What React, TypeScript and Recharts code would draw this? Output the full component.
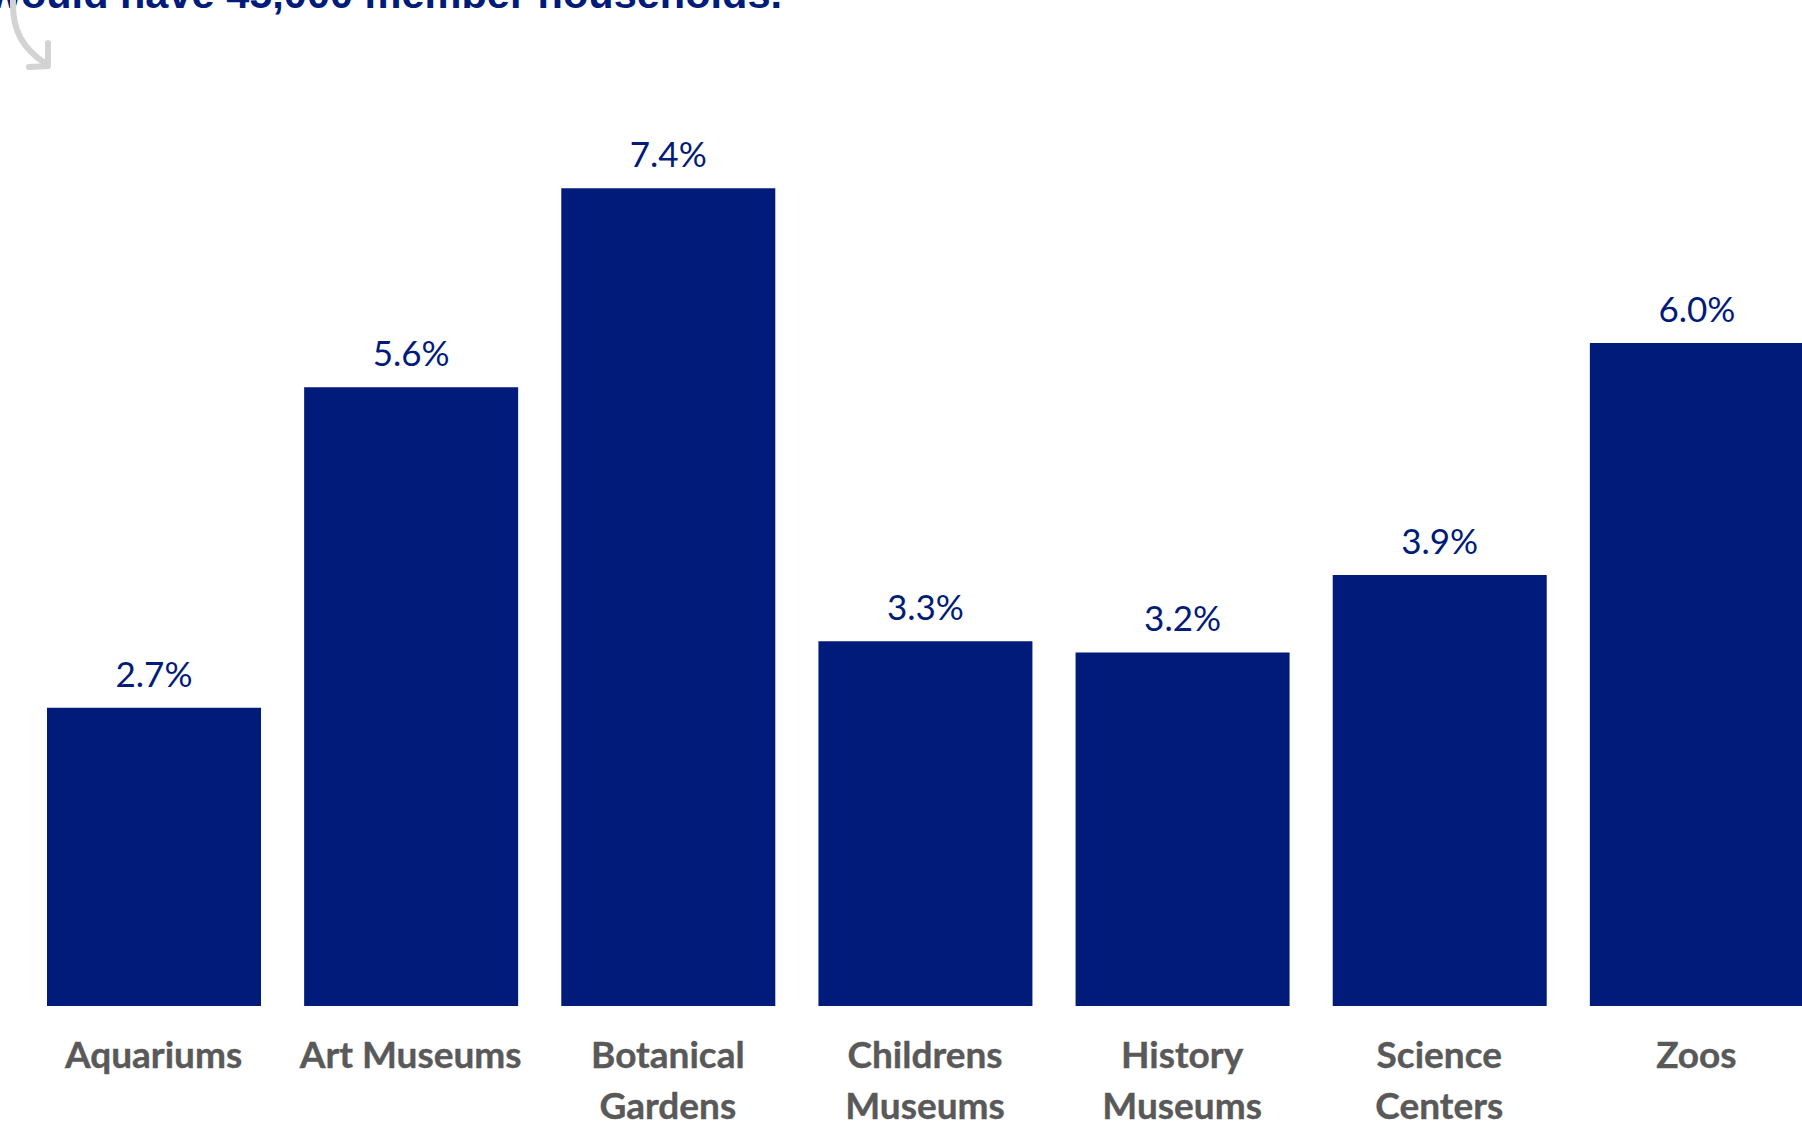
import React from "react";
import { BarChart, Bar, XAxis, YAxis, LabelList } from "recharts";

const categories = [
  "Aquariums",
  "Art Museums",
  "Botanical Gardens",
  "Childrens Museums",
  "History Museums",
  "Science Centers",
  "Zoos",
];
const values = [2.7, 5.6, 7.4, 3.3, 3.2, 3.9, 6.0];
const tickLines: string[][] = [
  ["Aquariums"],
  ["Art Museums"],
  ["Botanical", "Gardens"],
  ["Childrens", "Museums"],
  ["History", "Museums"],
  ["Science", "Centers"],
  ["Zoos"],
];
const titleText = "would have 45,000 member households.";

const data = categories.map((name, i) => ({ name, value: values[i] }));

const NAVY = "#001B79";
const GRAY = "#595959";

const CategoryTick = (props: any) => {
  const { x, y, payload, index } = props;
  const idx = categories.indexOf(payload.value);
  const lines = tickLines[idx >= 0 ? idx : index] || [String(payload.value)];
  return (
    <text
      x={x}
      y={y}
      textAnchor="middle"
      fill={GRAY}
      fontFamily="Lato, 'Noto Sans', sans-serif"
      fontWeight={700}
      fontSize={37}
      stroke={GRAY}
      strokeWidth={0.4}
    >
      {lines.map((l, i) => (
        <tspan key={i} x={x} y={y + 62 + i * 51}>
          {l}
        </tspan>
      ))}
    </text>
  );
};

export default function App() {
  return (
    <div
      style={{
        position: "fixed",
        top: 0,
        left: 0,
        width: 1802,
        height: 1121,
        overflow: "hidden",
        background: "#ffffff",
      }}
    >
      <BarChart
        width={1830}
        height={1121}
        data={data}
        margin={{ top: 122, right: 5, left: 25, bottom: 0 }}
      >
        <XAxis
          dataKey="name"
          height={115}
          axisLine={false}
          tickLine={false}
          tickSize={0}
          tickMargin={0}
          interval={0}
          tick={<CategoryTick />}
        />
        <YAxis hide domain={[0, 8]} />
        <Bar dataKey="value" fill={NAVY} barSize={214} isAnimationActive={false}>
          <LabelList
            dataKey="value"
            position="top"
            offset={21}
            formatter={(v: any) => `${Number(v).toFixed(1)}%`}
            fill={NAVY}
            fontSize={35}
            fontFamily="Lato, 'Noto Sans', sans-serif"
          />
        </Bar>
      </BarChart>
      <svg
        width={1802}
        height={120}
        style={{ position: "absolute", top: 0, left: 0, pointerEvents: "none" }}
      >
        <text
          x={782}
          y={8}
          textAnchor="end"
          fill={NAVY}
          fontFamily="'Liberation Sans', Arial, sans-serif"
          fontWeight={700}
          fontSize={41.5}
        >
          {titleText}
        </text>
        <path
          d="M 13 0 C 12 30, 22 48, 46 64"
          fill="none"
          stroke="#D3D3D3"
          strokeWidth={6}
          strokeLinecap="round"
        />
        <path
          d="M 48 43 L 48 66 L 29 67"
          fill="none"
          stroke="#D3D3D3"
          strokeWidth={6}
          strokeLinecap="round"
          strokeLinejoin="round"
        />
      </svg>
    </div>
  );
}
